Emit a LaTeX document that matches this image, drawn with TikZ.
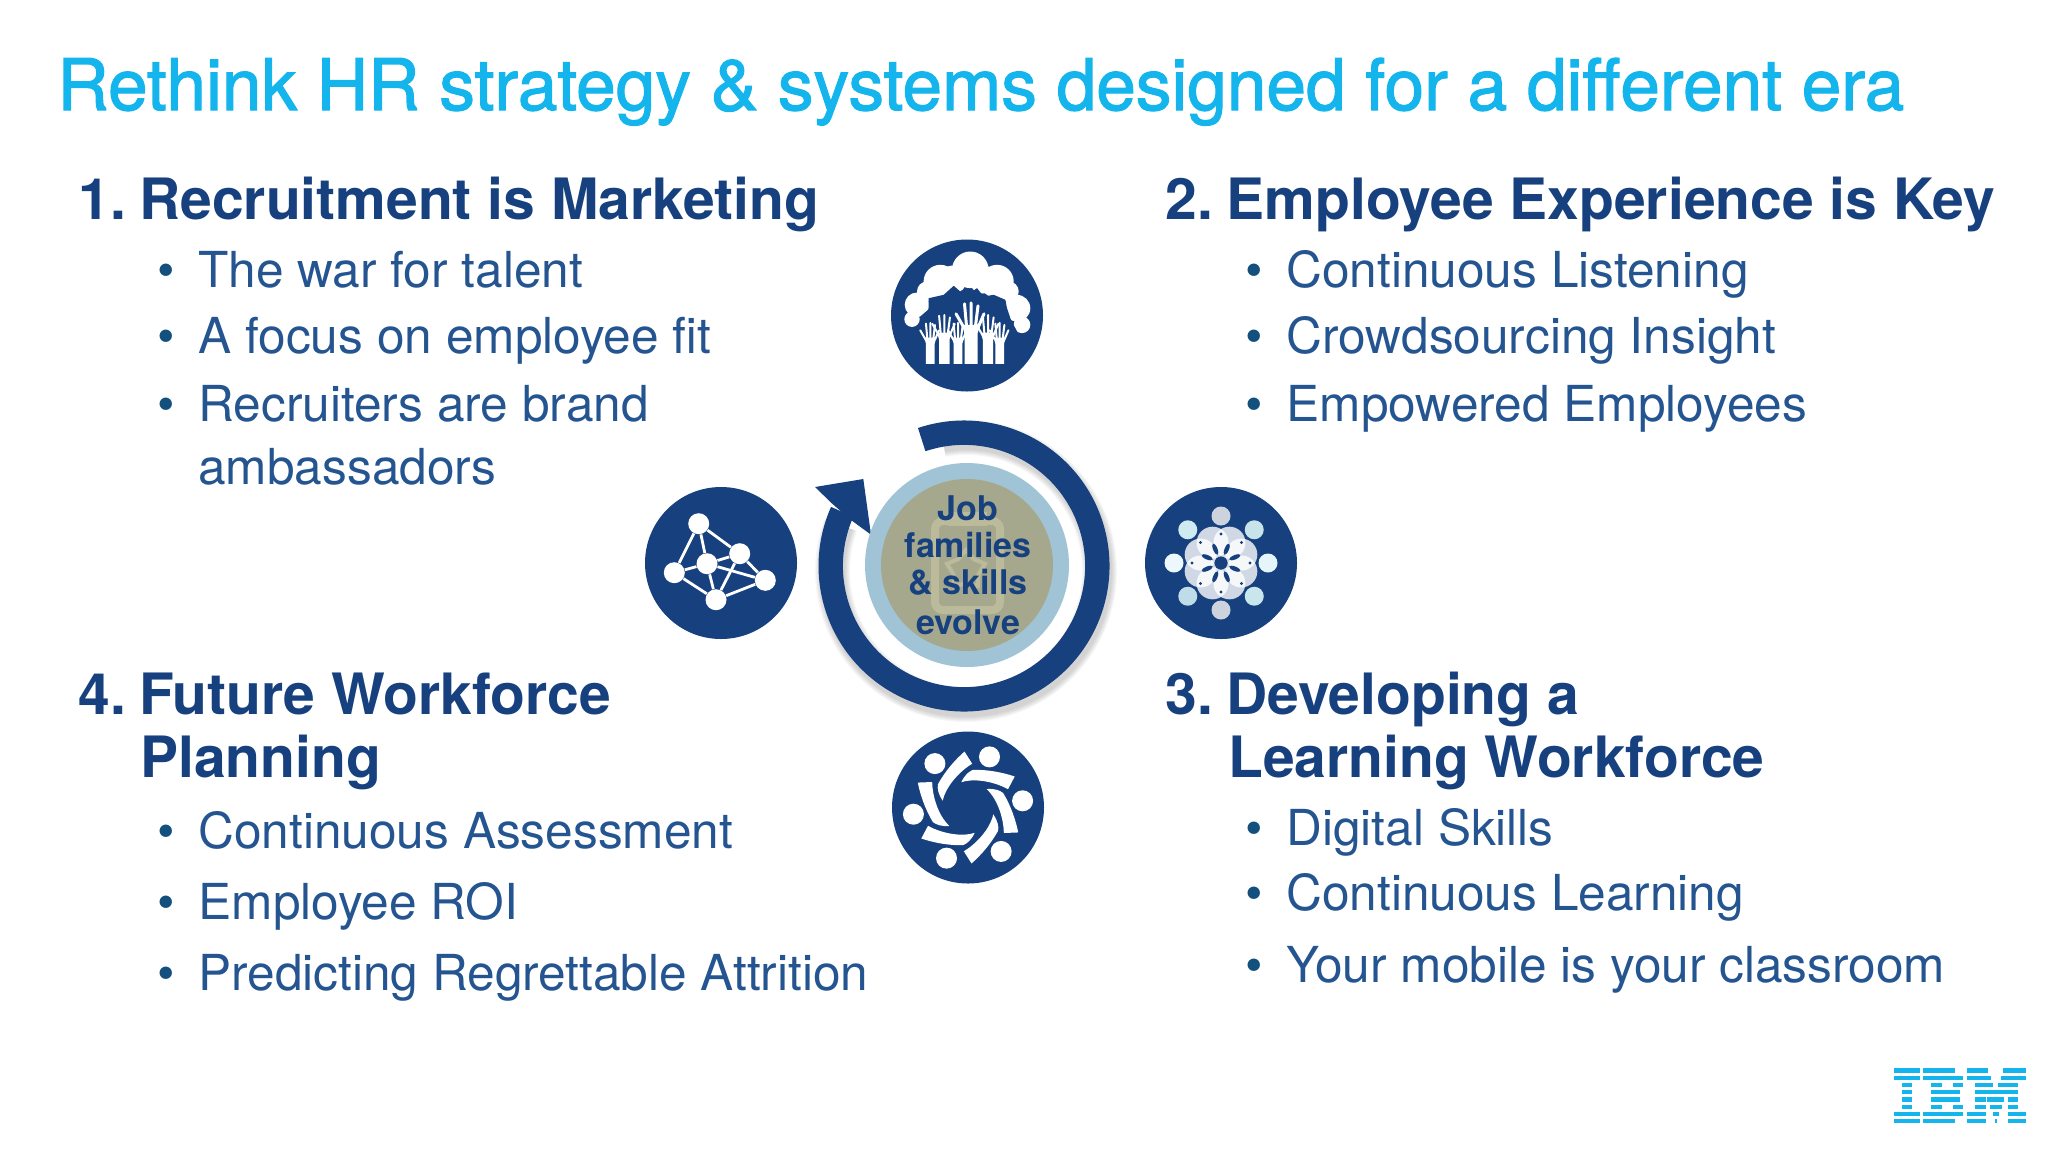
\documentclass[tikz,border=0pt]{standalone}
\usepackage{fontspec}
\setmainfont{TeX Gyre Heros}
\newfontfamily\titlefont[FakeBold=1.6]{TeX Gyre Heros}
\usetikzlibrary{positioning,shapes.geometric}
\definecolor{navy}{HTML}{17407F}
\definecolor{sky}{HTML}{14B4EC}
\definecolor{ink}{HTML}{255590}
\definecolor{dotblue}{HTML}{14507E}
\definecolor{paleblue}{HTML}{A0C4D6}
\definecolor{khaki}{HTML}{A5A88C}
\definecolor{clipline}{HTML}{BBBB9C}
\tikzset{
  titletext/.style={anchor=base west,inner sep=0pt,text=sky,font=\fontsize{35.6}{35.6}\titlefont},
  headtext/.style={anchor=base west,inner sep=0pt,text=navy,font=\fontsize{28.5}{28.5}\selectfont\bfseries},
  itemtext/.style={anchor=base west,inner sep=0pt,text=ink,font=\fontsize{24.8}{24.8}\selectfont},
  bulletmark/.style={anchor=base,inner sep=0pt,text=dotblue,font=\fontsize{25}{25}\selectfont},
  centertext/.style={anchor=base,inner sep=0pt,text=navy,font=\fontsize{17}{17}\selectfont\bfseries},
  icondisc/.style={circle,fill=navy,inner sep=0pt,minimum size=76pt},
  atom/.style={circle,fill=white,inner sep=0pt,minimum size=10.5pt},
  hand/.pic={
    \fill[white] (-6.5,0) -- (-6.5,-30) -- (-9,-39) -- (9,-39) -- (6.5,-30) -- (6.5,0) -- cycle;
    \draw[white,line cap=round] (-7,-36) -- (-15,-50) (-4.5,-38) -- (-6.5,-60) (0,-38) -- (0,-61)
      (4.5,-38) -- (7,-58) (7,-36) -- (13,-50);
  }
}
\newcommand{\numgap}{\kern-1.2pt\ }
\begin{document}
\begin{tikzpicture}[x=.5pt,y=-.5pt]
  \useasboundingbox (0,0) rectangle (2048,1152);

  % texts
  \node[titletext] (title) at (57,110) {Rethink HR strategy \& systems designed for a different era};
  \node[headtext] (head1) at (78,219) {1.\numgap Recruitment is Marketing};
  \node[headtext] (head2) at (1165,219) {2.\numgap Employee Experience is Key};
  \node[headtext] (head3) at (1165,714) {3.\numgap Developing a};
  \node[headtext] (head3b) at (1228,777) {Learning Workforce};
  \node[headtext] (head4) at (78,714) {4.\numgap Future Workforce};
  \node[headtext] (head4b) at (140,777) {Planning};

  \foreach \name/\x/\y/\txt in {a1/198/287/The war for talent,a2/198/353/A focus on employee fit,
      a3/198/421/Recruiters are brand,
      b1/1286/287/Continuous Listening,b2/1286/353/Crowdsourcing Insight,b3/1286/421/Empowered Employees,
      c1/1286/845/Digital Skills,c2/1286/910/Continuous Learning,c3/1286/982/Your mobile is your classroom,
      d1/198/848/Continuous Assessment,d2/198/919/Employee ROI,d3/198/990/Predicting Regrettable Attrition}
  {
    \node[itemtext] (\name) at (\x,\y) {\txt};
    \node[bulletmark] (\name dot) at (\x-32,\y) {•};
  }
  \node[itemtext] (a3b) at (198,484) {ambassadors};

  % ring with soft shadow
  \foreach \w in {12.5,13.5,14.5,15.5,16.5,17.5}
    \draw[black,opacity=.03,line width=\w pt] (966,571) +(-100:133.5) arc[start angle=-100,end angle=200,radius=133.5];
  \draw[navy,line width=12.2pt] (964,566) +(-108.5:133.3) arc[start angle=-108.5,end angle=204,radius=133.3];
  \fill[navy] (815,487) -- (863.3,479) -- (871,534.7) -- (851,520) -- (832,503.5) -- cycle;

  % middle discs
  \node[circle,fill=paleblue,inner sep=0pt,minimum size=102pt] (outerdisc) at (967,565) {};
  \node[circle,fill=khaki,inner sep=0pt,minimum size=86pt] (innerdisc) at (967,565) {};
  \draw[clipline,line width=4pt,rounded corners=4pt] (935,521) rectangle (1000,610);
  \fill[clipline] (948,512) rectangle (987,526);
  \node[star,star points=5,draw=clipline,line width=2pt,inner sep=0pt,minimum size=20pt] (badge) at (966,570) {};

  \node[centertext] (job1) at (968,520) {Job};
  \node[centertext] (job2) at (968,557) {families};
  \node[centertext] (job3) at (968,594) {\& skills};
  \node[centertext] (job4) at (968,634) {evolve};

  % top icon
  \node[icondisc] (icontop) at (967,315.5) {};
  \begin{scope}[shift={(icontop.center)}]
    \foreach \x/\y/\r in {3.3/-45.7/18.3,-26.7/-34/16.7,30/-34/16.7,-50/-10.7/12.3,-55/3.7/7.7,
        50/-7.3/13.3,55/9.3/8.3,-40/-24/10,41.7/-24/10,-14/-36/14,16/-36/14}
      \fill[white] (\x,\y) circle[radius=\r];
    \fill[navy] (-46.7,1) -- (-38.3,-6.3) -- (-38.3,-17.3) -- (-23.3,-20.7) -- (-13.3,-29.7) -- (-6.7,-24)
      -- (0,-20.7) -- (10,-27.3) -- (16.7,-19) -- (26.7,-20.7) -- (38.3,-15.7) -- (40,-7.3) -- (43.3,2.7)
      -- (50,16) -- (40,50) -- (-46.7,50) -- cycle;
    \foreach \x/\s in {-36.7/.67,-22.7/.8,-9/.67,21/.8,32.7/.67}
      \pic[line width=1pt,scale=\s] at (\x,48.3) {hand};
    \pic[line width=1.5pt] at (4,48.3) {hand};
  \end{scope}

  % left icon
  \node[icondisc] (iconleft) at (721,563) {};
  \begin{scope}[shift={(iconleft.center)}]
    \node[atom] (v1) at (-22.3,-39.3) {};
    \node[atom] (v2) at (18.7,-9.3) {};
    \node[atom] (v3) at (-14,.7) {};
    \node[atom] (v4) at (-46.7,9.7) {};
    \node[atom] (v5) at (44.3,17.3) {};
    \node[atom] (v6) at (-5,36.7) {};
    \foreach \from/\to in {v1/v2,v1/v3,v1/v4,v3/v4,v3/v2,v3/v5,v3/v6,v2/v5,v2/v6,v4/v6,v6/v5}
      \draw[white,line width=1.4pt] (\from) -- (\to);
  \end{scope}

  % right icon
  \node[icondisc] (iconright) at (1221,563) {};
  \begin{scope}[shift={(iconright.center)}]
    \foreach \a/\c in {0/E5F5FA,45/C9E6EC,90/CDD3DC,135/BEDDE8,180/EDF8FC,225/D0EAF2,270/CDD3DC,315/C8E4EA}
    {
      \definecolor{petalc}{HTML}{\c}
      \fill[petalc] (\a:47) circle[radius=9.5];
    }
    \foreach \a in {0,45,...,315}
      \fill[white,opacity=.8] (\a+22.5:22) circle[radius=16];
    \foreach \a in {22.5,67.5,...,337.5}
      \fill[navy,rotate=\a] (15,0) ellipse[x radius=6,y radius=2.2];
    \foreach \a in {0,45,...,315}
      \fill[navy] (\a:29) circle[radius=1.6];
    \fill[navy] (0,0) circle[radius=6.5];
  \end{scope}

  % bottom icon
  \node[icondisc] (iconbottom) at (968,807.5) {};
  \begin{scope}[shift={(iconbottom.center)}]
    \foreach \a in {0,60,...,300}
    {
      \fill[white] (\a-67:55) circle[radius=10.5];
      \fill[white,rotate=\a] (-6.7,-25.3) .. controls (-3,-33) and (1,-36) .. (5,-37.7)
        .. controls (20,-38) and (35,-35) .. (46.7,-31) -- (40,-18.3)
        .. controls (28,-25) and (8,-30) .. (-6.7,-25.3) -- cycle;
    }
  \end{scope}

  % logo
  \begin{scope}[shift={(1880,1050)},x=.1667pt,y=-.1667pt]
    \foreach \row/\from/\to in {0/43/120,1/43/120,2/65/97,3/65/97,4/65/97,5/65/97,6/43/120,7/43/120,
        0/130/225,1/130/248,2/153/185,2/218/250,3/153/240,4/153/240,5/153/185,5/218/250,6/130/248,7/130/225,
        0/262/325,0/368/438,1/262/332,1/362/438,2/285/340,2/355/415,3/285/415,4/285/318,4/322/372,4/384/415,
        5/285/318,5/330/365,5/384/415,6/262/318,6/338/358,6/384/438,7/262/318,7/345/351,7/384/438}
      \fill[sky] (\from,55+21.75*\row) rectangle (\to,67.75+21.75*\row);
  \end{scope}
\end{tikzpicture}
\end{document}
